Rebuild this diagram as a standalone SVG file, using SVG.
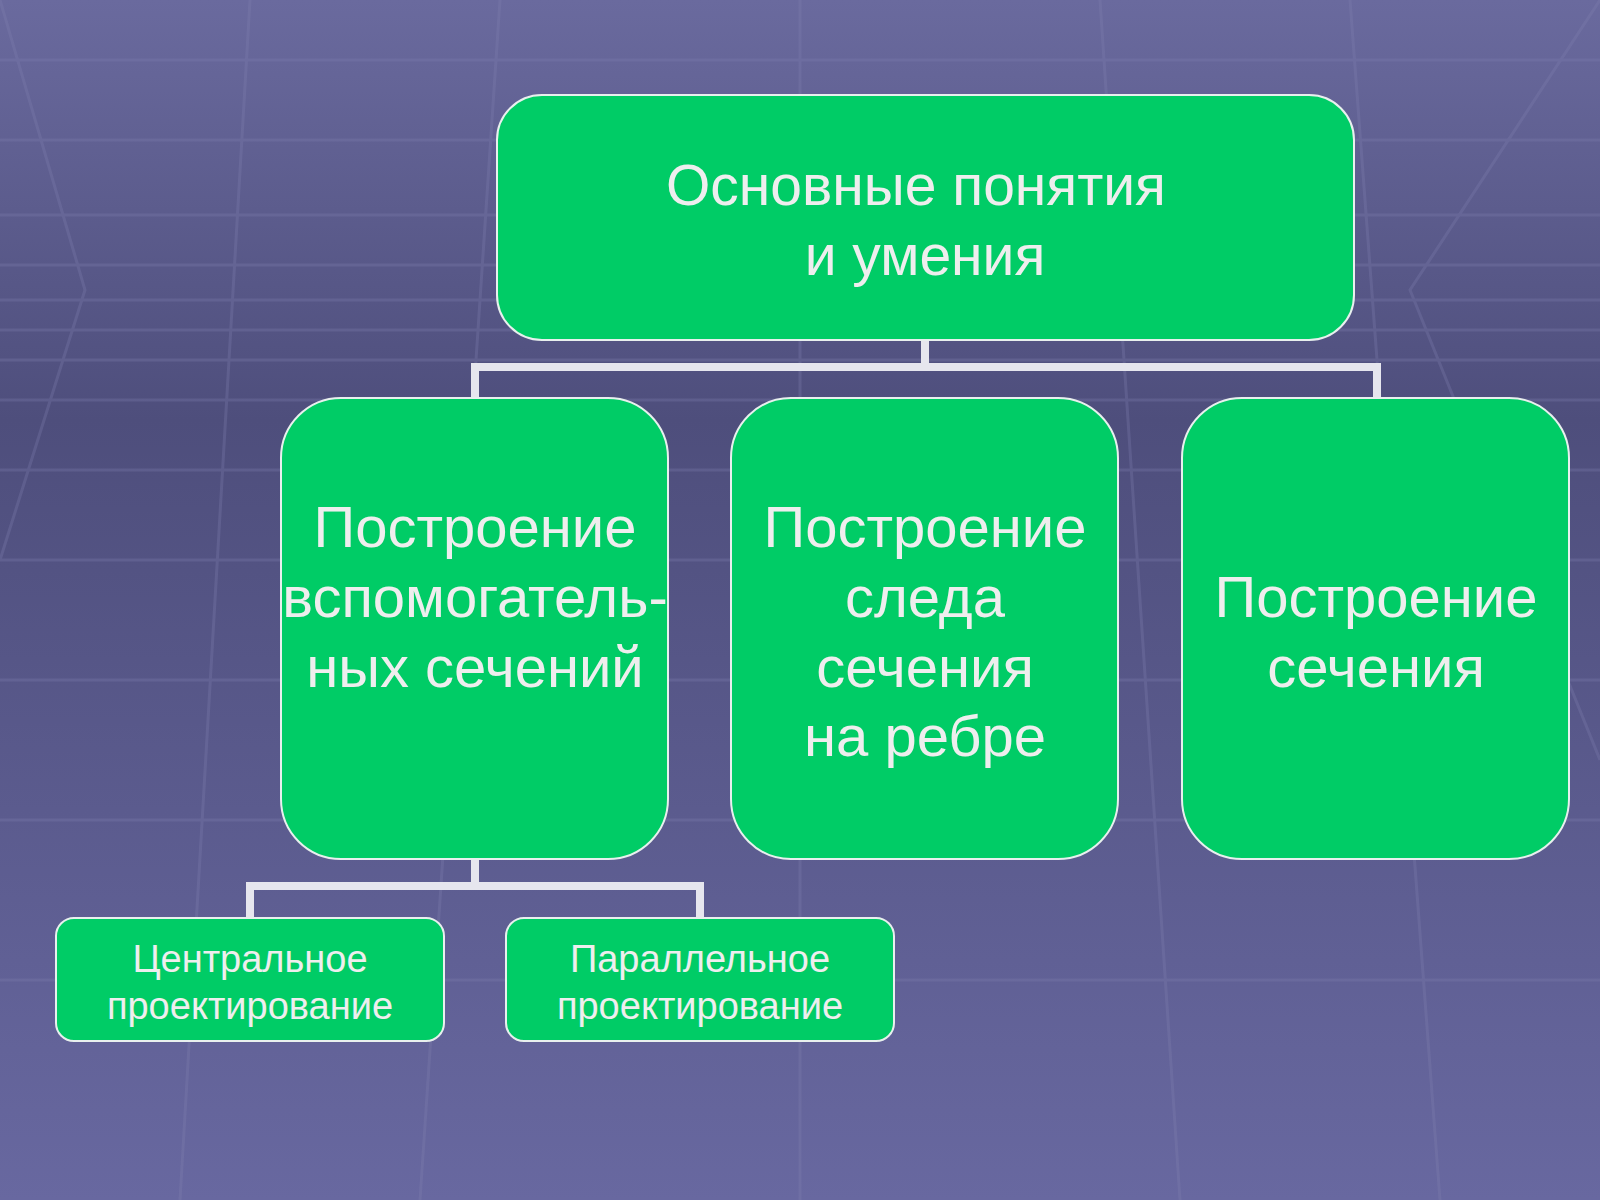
<svg xmlns="http://www.w3.org/2000/svg" width="1600" height="1200" viewBox="0 0 1600 1200">
<defs>
<linearGradient id="bg" x1="0" y1="0" x2="0" y2="1">
<stop offset="0" stop-color="#6a6a9e"/><stop offset="0.35" stop-color="#4e4e7c"/><stop offset="1" stop-color="#6868a0"/>
</linearGradient>
<style>
.box{fill:#00cc66;stroke:#e8f0ee;stroke-width:2}
.t{font-family:"Liberation Sans",Arial,sans-serif;fill:#eeeeee;text-anchor:middle}
.c{fill:none;stroke:#e6e6ee;stroke-width:8}
.g{stroke:#8080b0;stroke-width:3;opacity:0.3;fill:none}
</style>
</defs>
<rect width="1600" height="1200" fill="url(#bg)"/>
<g class="g">
<path d="M0 60H1600M0 140H1600M0 215H1600M0 265H1600M0 300H1600M0 330H1600M0 360H1600M0 400H1600M0 470H1600M0 560H1600M0 680H1600M0 820H1600M0 980H1600"/>
<path d="M0 0L85 290L0 560M1600 0L1410 290L1600 760M250 0L180 1200M500 0L420 1200M800 0V1200M1100 0L1180 1200M1350 0L1440 1200"/>
</g>
<g id="connectors">
<path class="c" d="M925 340V367M475 398V367H1377V398M475 859V886M250 918V886H700V918"/>
</g>
<g id="top"><rect class="box" x="497" y="95" width="857" height="245" rx="45"/>
<text class="t" font-size="57" x="916" y="205">Основные понятия</text><text class="t" font-size="57" x="925" y="275">и умения</text></g>
<g id="n1"><rect class="box" x="281" y="398" width="387" height="461" rx="60"/>
<text class="t" font-size="58" x="475" y="547">Построение</text><text class="t" font-size="58" x="475" y="617">вспомогатель-</text><text class="t" font-size="58" x="475" y="687">ных сечений</text></g>
<g id="n2"><rect class="box" x="731" y="398" width="387" height="461" rx="60"/>
<text class="t" font-size="58" x="925" y="547">Построение</text><text class="t" font-size="58" x="925" y="617">следа</text><text class="t" font-size="58" x="925" y="687">сечения</text><text class="t" font-size="58" x="925" y="756">на ребре</text></g>
<g id="n3"><rect class="box" x="1182" y="398" width="387" height="461" rx="60"/>
<text class="t" font-size="58" x="1376" y="617">Построение</text><text class="t" font-size="58" x="1376" y="687">сечения</text></g>
<g id="b1"><rect class="box" x="56" y="918" width="388" height="123" rx="18"/>
<text class="t" font-size="38" x="250" y="972">Центральное</text><text class="t" font-size="38" x="250" y="1019">проектирование</text></g>
<g id="b2"><rect class="box" x="506" y="918" width="388" height="123" rx="18"/>
<text class="t" font-size="38" x="700" y="972">Параллельное</text><text class="t" font-size="38" x="700" y="1019">проектирование</text></g>
</svg>
